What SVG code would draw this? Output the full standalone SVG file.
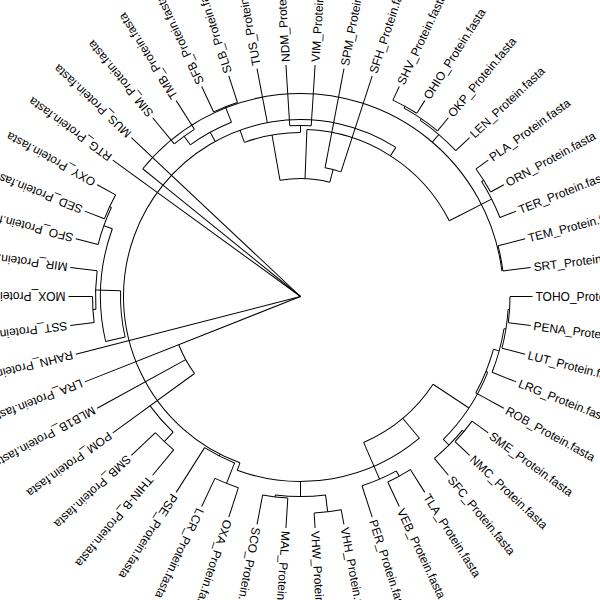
<svg xmlns="http://www.w3.org/2000/svg" width="600" height="600" viewBox="0 0 600 600">
<style>
.e circle,.e line{fill:none;stroke:#000;stroke-width:1}
text{font-family:"Liberation Sans",Arial,sans-serif;font-size:12px;fill:#000}
</style>
<rect width="600" height="600" fill="#fff"/>
<g id="connectors" class="e" transform="translate(300.5,296.5)">
<circle r="204" pathLength="360" stroke-dasharray="7.2 400" transform="rotate(-14.4)"/>
<circle r="203" pathLength="360" stroke-dasharray="133.8 400" transform="rotate(-141)"/>
<circle r="217" pathLength="360" stroke-dasharray="7.2 400" transform="rotate(-36)"/>
<circle r="214.5" pathLength="360" stroke-dasharray="10.8 400" transform="rotate(-32.4)"/>
<circle r="217" pathLength="360" stroke-dasharray="7.2 400" transform="rotate(-64.8)"/>
<circle r="215" pathLength="360" stroke-dasharray="10.8 400" transform="rotate(-61.2)"/>
<circle r="213" pathLength="360" stroke-dasharray="12.6 400" transform="rotate(-55.8)"/>
<circle r="167" pathLength="360" stroke-dasharray="60.8 400" transform="rotate(-87.8)"/>
<circle r="177" pathLength="360" stroke-dasharray="83.6 400" transform="rotate(-141)"/>
<circle r="118" pathLength="360" stroke-dasharray="24.4 400" transform="rotate(-100)"/>
<circle r="131" pathLength="360" stroke-dasharray="7.2 400" transform="rotate(-79.2)"/>
<circle r="164" pathLength="360" stroke-dasharray="20 400" transform="rotate(-110)"/>
<circle r="171" pathLength="360" stroke-dasharray="7.2 400" transform="rotate(-93.6)"/>
<circle r="204" pathLength="360" stroke-dasharray="7.2 400" transform="rotate(-115.2)"/>
<circle r="198" pathLength="360" stroke-dasharray="7.2 400" transform="rotate(-129.6)"/>
<circle r="187.5" pathLength="360" stroke-dasharray="14.4 400" transform="rotate(-126)"/>
<circle r="211" pathLength="360" stroke-dasharray="7.2 400" transform="rotate(-158.4)"/>
<circle r="209" pathLength="360" stroke-dasharray="10.8 400" transform="rotate(-165.6)"/>
<circle r="208" pathLength="360" stroke-dasharray="7.2 400" transform="rotate(-187.2)"/>
<circle r="205" pathLength="360" stroke-dasharray="10.8 400" transform="rotate(-183.6)"/>
<circle r="200" pathLength="360" stroke-dasharray="32.8 400" transform="rotate(-193)"/>
<circle r="180" pathLength="360" stroke-dasharray="14.8 400" transform="rotate(-193)"/>
<circle r="131" pathLength="360" stroke-dasharray="14.4 400" transform="rotate(-216)"/>
<circle r="186" pathLength="360" stroke-dasharray="10.8 400" transform="rotate(-226.8)"/>
<circle r="199" pathLength="360" stroke-dasharray="7.2 400" transform="rotate(-230.4)"/>
<circle r="177" pathLength="360" stroke-dasharray="109 400" transform="rotate(-250)"/>
<circle r="201" pathLength="360" stroke-dasharray="7.2 400" transform="rotate(-252)"/>
<circle r="179" pathLength="360" stroke-dasharray="10.8 400" transform="rotate(-248.4)"/>
<circle r="185" pathLength="360" stroke-dasharray="60 400" transform="rotate(-310)"/>
<circle r="202" pathLength="360" stroke-dasharray="7.2 400" transform="rotate(-266.4)"/>
<circle r="217" pathLength="360" stroke-dasharray="7.2 400" transform="rotate(-280.8)"/>
<circle r="200" pathLength="360" stroke-dasharray="14.4 400" transform="rotate(-277.2)"/>
<circle r="205" pathLength="360" stroke-dasharray="7.2 400" transform="rotate(-302.4)"/>
<circle r="199" pathLength="360" stroke-dasharray="10.8 400" transform="rotate(-298.8)"/>
<circle r="159" pathLength="360" stroke-dasharray="33.1 400" transform="rotate(-326.5)"/>
<circle r="212" pathLength="360" stroke-dasharray="7.2 400" transform="rotate(-324)"/>
<circle r="210" pathLength="360" stroke-dasharray="10.8 400" transform="rotate(-320.4)"/>
<circle r="202" pathLength="360" stroke-dasharray="22.95 400" transform="rotate(-337.95)"/>
<circle r="200" pathLength="360" stroke-dasharray="13.5 400" transform="rotate(-344.7)"/>
<circle r="206" pathLength="360" stroke-dasharray="12.6 400" transform="rotate(-351)"/>
<circle r="208" pathLength="360" stroke-dasharray="10.8 400" transform="rotate(-356.4)"/>
<circle r="209.5" pathLength="360" stroke-dasharray="7.2 400" transform="rotate(-360)"/>
<line x1="0" x2="232" transform="rotate(-136.8)"/>
<line x1="0" x2="232" transform="rotate(-144)"/>
<line x1="0" x2="177" transform="rotate(-141)"/>
<line x1="0" x2="232" transform="rotate(-194.4)"/>
<line x1="0" x2="232" transform="rotate(-201.6)"/>
<line x1="177" x2="203" transform="rotate(-141)"/>
<line x1="204" x2="232" transform="rotate(-7.2)"/>
<line x1="204" x2="232" transform="rotate(-14.4)"/>
<line x1="203" x2="204" transform="rotate(-10.8)"/>
<line x1="214.5" x2="232" transform="rotate(-21.6)"/>
<line x1="217" x2="232" transform="rotate(-28.8)"/>
<line x1="217" x2="232" transform="rotate(-36)"/>
<line x1="214.5" x2="217" transform="rotate(-32.4)"/>
<line x1="167" x2="214.5" transform="rotate(-27)"/>
<line x1="213" x2="232" transform="rotate(-43.2)"/>
<line x1="215" x2="232" transform="rotate(-50.4)"/>
<line x1="217" x2="232" transform="rotate(-57.6)"/>
<line x1="217" x2="232" transform="rotate(-64.8)"/>
<line x1="213" x2="215" transform="rotate(-55.8)"/>
<line x1="215" x2="217" transform="rotate(-61.2)"/>
<line x1="203" x2="213" transform="rotate(-49.5)"/>
<line x1="167" x2="177" transform="rotate(-57.4)"/>
<line x1="131" x2="232" transform="rotate(-72)"/>
<line x1="131" x2="232" transform="rotate(-79.2)"/>
<line x1="118" x2="131" transform="rotate(-75.6)"/>
<line x1="118" x2="167" transform="rotate(-87.8)"/>
<line x1="118" x2="164" transform="rotate(-100)"/>
<line x1="164" x2="171" transform="rotate(-90)"/>
<line x1="171" x2="232" transform="rotate(-86.4)"/>
<line x1="171" x2="232" transform="rotate(-93.6)"/>
<line x1="164" x2="177" transform="rotate(-110)"/>
<line x1="177" x2="232" transform="rotate(-100.8)"/>
<line x1="204" x2="232" transform="rotate(-108)"/>
<line x1="204" x2="232" transform="rotate(-115.2)"/>
<line x1="187.5" x2="204" transform="rotate(-111.6)"/>
<line x1="198" x2="232" transform="rotate(-122.4)"/>
<line x1="198" x2="232" transform="rotate(-129.6)"/>
<line x1="187.5" x2="198" transform="rotate(-126)"/>
<line x1="177" x2="187.5" transform="rotate(-118.8)"/>
<line x1="211" x2="232" transform="rotate(-151.2)"/>
<line x1="211" x2="232" transform="rotate(-158.4)"/>
<line x1="209" x2="211" transform="rotate(-154.8)"/>
<line x1="209" x2="232" transform="rotate(-165.6)"/>
<line x1="200" x2="209" transform="rotate(-160.2)"/>
<line x1="205" x2="232" transform="rotate(-172.8)"/>
<line x1="208" x2="232" transform="rotate(-180)"/>
<line x1="208" x2="232" transform="rotate(-187.2)"/>
<line x1="205" x2="208" transform="rotate(-183.6)"/>
<line x1="180" x2="205" transform="rotate(-178.2)"/>
<line x1="180" x2="200" transform="rotate(-193)"/>
<line x1="131" x2="232" transform="rotate(-208.8)"/>
<line x1="131" x2="232" transform="rotate(-216)"/>
<line x1="186" x2="199" transform="rotate(-226.8)"/>
<line x1="199" x2="232" transform="rotate(-223.2)"/>
<line x1="199" x2="232" transform="rotate(-230.4)"/>
<line x1="179" x2="232" transform="rotate(-237.6)"/>
<line x1="179" x2="201" transform="rotate(-248.4)"/>
<line x1="201" x2="232" transform="rotate(-244.8)"/>
<line x1="201" x2="232" transform="rotate(-252)"/>
<line x1="177" x2="179" transform="rotate(-243)"/>
<line x1="177" x2="185" transform="rotate(-250)"/>
<line x1="202" x2="232" transform="rotate(-259.2)"/>
<line x1="202" x2="232" transform="rotate(-266.4)"/>
<line x1="200" x2="202" transform="rotate(-262.8)"/>
<line x1="217" x2="232" transform="rotate(-273.6)"/>
<line x1="217" x2="232" transform="rotate(-280.8)"/>
<line x1="200" x2="217" transform="rotate(-277.2)"/>
<line x1="185" x2="200" transform="rotate(-270)"/>
<line x1="199" x2="232" transform="rotate(-288)"/>
<line x1="205" x2="232" transform="rotate(-295.2)"/>
<line x1="205" x2="232" transform="rotate(-302.4)"/>
<line x1="199" x2="205" transform="rotate(-298.8)"/>
<line x1="159" x2="199" transform="rotate(-293.4)"/>
<line x1="159" x2="185" transform="rotate(-310)"/>
<line x1="210" x2="232" transform="rotate(-309.6)"/>
<line x1="212" x2="232" transform="rotate(-316.8)"/>
<line x1="212" x2="232" transform="rotate(-324)"/>
<line x1="210" x2="212" transform="rotate(-320.4)"/>
<line x1="202" x2="210" transform="rotate(-315)"/>
<line x1="159" x2="202" transform="rotate(-326.5)"/>
<line x1="200" x2="232" transform="rotate(-331.2)"/>
<line x1="206" x2="232" transform="rotate(-338.4)"/>
<line x1="208" x2="232" transform="rotate(-345.6)"/>
<line x1="209.5" x2="232" transform="rotate(-352.8)"/>
<line x1="209.5" x2="232" transform="rotate(0)"/>
<line x1="200" x2="206" transform="rotate(-344.7)"/>
<line x1="206" x2="208" transform="rotate(-351)"/>
<line x1="208" x2="209.5" transform="rotate(-356.4)"/>
<line x1="200" x2="202" transform="rotate(-337.95)"/>
</g>
<g id="labels" transform="translate(300.5,296.5)">
<g id="tip-TOHO"><text x="235" dy=".35em" transform="rotate(0)">TOHO_Protein.fasta</text></g>
<g id="tip-SRT"><text x="235" dy=".35em" transform="rotate(-7.2)">SRT_Protein.fasta</text></g>
<g id="tip-TEM"><text x="235" dy=".35em" transform="rotate(-14.4)">TEM_Protein.fasta</text></g>
<g id="tip-TER"><text x="235" dy=".35em" transform="rotate(-21.6)">TER_Protein.fasta</text></g>
<g id="tip-ORN"><text x="235" dy=".35em" transform="rotate(-28.8)">ORN_Protein.fasta</text></g>
<g id="tip-PLA"><text x="235" dy=".35em" transform="rotate(-36)">PLA_Protein.fasta</text></g>
<g id="tip-LEN"><text x="235" dy=".35em" transform="rotate(-43.2)">LEN_Protein.fasta</text></g>
<g id="tip-OKP"><text x="235" dy=".35em" transform="rotate(-50.4)">OKP_Protein.fasta</text></g>
<g id="tip-OHIO"><text x="235" dy=".35em" transform="rotate(-57.6)">OHIO_Protein.fasta</text></g>
<g id="tip-SHV"><text x="235" dy=".35em" transform="rotate(-64.8)">SHV_Protein.fasta</text></g>
<g id="tip-SFH"><text x="235" dy=".35em" transform="rotate(-72)">SFH_Protein.fasta</text></g>
<g id="tip-SPM"><text x="235" dy=".35em" transform="rotate(-79.2)">SPM_Protein.fasta</text></g>
<g id="tip-VIM"><text x="235" dy=".35em" transform="rotate(-86.4)">VIM_Protein.fasta</text></g>
<g id="tip-NDM"><text x="235" dy=".35em" transform="rotate(-93.6)">NDM_Protein.fasta</text></g>
<g id="tip-TUS"><text x="235" dy=".35em" transform="rotate(-100.8)">TUS_Protein.fasta</text></g>
<g id="tip-SLB"><text x="235" dy=".35em" transform="rotate(-108)">SLB_Protein.fasta</text></g>
<g id="tip-SFB"><text x="235" dy=".35em" transform="rotate(-115.2)">SFB_Protein.fasta</text></g>
<g id="tip-TMB"><text x="235" dy=".35em" transform="rotate(-122.4)">TMB_Protein.fasta</text></g>
<g id="tip-SIM"><text x="235" dy=".35em" transform="rotate(-129.6)">SIM_Protein.fasta</text></g>
<g id="tip-MUS"><text x="235" dy=".35em" transform="rotate(-136.8)">MUS_Protein.fasta</text></g>
<g id="tip-RTG"><text x="235" dy=".35em" transform="rotate(-144)">RTG_Protein.fasta</text></g>
<g id="tip-OXY"><text x="235" dy=".35em" transform="rotate(-151.2)">OXY_Protein.fasta</text></g>
<g id="tip-SED"><text x="235" dy=".35em" transform="rotate(-158.4)">SED_Protein.fasta</text></g>
<g id="tip-SFO"><text x="235" dy=".35em" transform="rotate(-165.6)">SFO_Protein.fasta</text></g>
<g id="tip-MIR"><text x="235" dy=".35em" transform="rotate(-172.8)">MIR_Protein.fasta</text></g>
<g id="tip-MOX"><text x="235" dy=".35em" transform="rotate(-180)">MOX_Protein.fasta</text></g>
<g id="tip-SST"><text x="235" dy=".35em" transform="rotate(-187.2)">SST_Protein.fasta</text></g>
<g id="tip-RAHN"><text x="235" dy=".35em" transform="rotate(-194.4)">RAHN_Protein.fasta</text></g>
<g id="tip-LRA"><text x="235" dy=".35em" transform="rotate(-201.6)">LRA_Protein.fasta</text></g>
<g id="tip-MLB1B"><text x="235" dy=".35em" transform="rotate(-208.8)">MLB1B_Protein.fasta</text></g>
<g id="tip-POM"><text x="235" dy=".35em" transform="rotate(-216)">POM_Protein.fasta</text></g>
<g id="tip-SMB"><text x="235" dy=".35em" transform="rotate(-223.2)">SMB_Protein.fasta</text></g>
<g id="tip-THIN-B"><text x="235" dy=".35em" transform="rotate(-230.4)">THIN-B_Protein.fasta</text></g>
<g id="tip-PSE"><text x="235" dy=".35em" transform="rotate(-237.6)">PSE_Protein.fasta</text></g>
<g id="tip-LCR"><text x="235" dy=".35em" transform="rotate(-244.8)">LCR_Protein.fasta</text></g>
<g id="tip-OXA"><text x="235" dy=".35em" transform="rotate(-252)">OXA_Protein.fasta</text></g>
<g id="tip-SCO"><text x="235" dy=".35em" transform="rotate(-259.2)">SCO_Protein.fasta</text></g>
<g id="tip-MAL"><text x="235" dy=".35em" transform="rotate(-266.4)">MAL_Protein.fasta</text></g>
<g id="tip-VHW"><text x="235" dy=".35em" transform="rotate(-273.6)">VHW_Protein.fasta</text></g>
<g id="tip-VHH"><text x="235" dy=".35em" transform="rotate(-280.8)">VHH_Protein.fasta</text></g>
<g id="tip-PER"><text x="235" dy=".35em" transform="rotate(-288)">PER_Protein.fasta</text></g>
<g id="tip-VEB"><text x="235" dy=".35em" transform="rotate(-295.2)">VEB_Protein.fasta</text></g>
<g id="tip-TLA"><text x="235" dy=".35em" transform="rotate(-302.4)">TLA_Protein.fasta</text></g>
<g id="tip-SFC"><text x="235" dy=".35em" transform="rotate(-309.6)">SFC_Protein.fasta</text></g>
<g id="tip-NMC"><text x="235" dy=".35em" transform="rotate(-316.8)">NMC_Protein.fasta</text></g>
<g id="tip-SME"><text x="235" dy=".35em" transform="rotate(-324)">SME_Protein.fasta</text></g>
<g id="tip-ROB"><text x="235" dy=".35em" transform="rotate(-331.2)">ROB_Protein.fasta</text></g>
<g id="tip-LRG"><text x="235" dy=".35em" transform="rotate(-338.4)">LRG_Protein.fasta</text></g>
<g id="tip-LUT"><text x="235" dy=".35em" transform="rotate(-345.6)">LUT_Protein.fasta</text></g>
<g id="tip-PENA"><text x="235" dy=".35em" transform="rotate(-352.8)">PENA_Protein.fasta</text></g>
</g>
</svg>
